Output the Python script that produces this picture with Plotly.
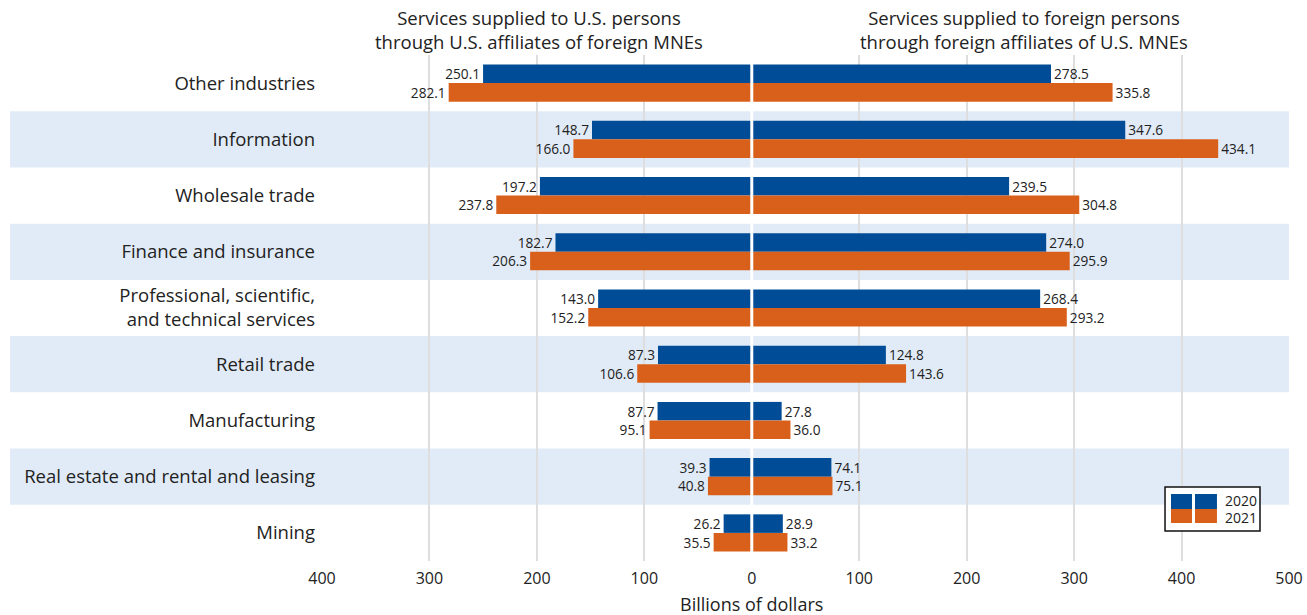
import plotly.graph_objects as go

# Industries, listed top to bottom
industries = [
    "Other industries",
    "Information",
    "Wholesale trade",
    "Finance and insurance",
    "Professional, scientific,<br>and technical services",
    "Retail trade",
    "Manufacturing",
    "Real estate and rental and leasing",
    "Mining",
]

# Services supplied to U.S. persons through U.S. affiliates of foreign MNEs (billions of dollars)
us_affiliates_2020 = [250.1, 148.7, 197.2, 182.7, 143.0, 87.3, 87.7, 39.3, 26.2]
us_affiliates_2021 = [282.1, 166.0, 237.8, 206.3, 152.2, 106.6, 95.1, 40.8, 35.5]

# Services supplied to foreign persons through foreign affiliates of U.S. MNEs (billions of dollars)
foreign_affiliates_2020 = [278.5, 347.6, 239.5, 274.0, 268.4, 124.8, 27.8, 74.1, 28.9]
foreign_affiliates_2021 = [335.8, 434.1, 304.8, 295.9, 293.2, 143.6, 36.0, 75.1, 33.2]

tick_values = [-400, -300, -200, -100, 0, 100, 200, 300, 400, 500]
tick_labels = ["400", "300", "200", "100", "0", "100", "200", "300", "400", "500"]

years = ["2020", "2021"]

BLUE = "#004c97"
ORANGE = "#d9601b"
BAND = "#e1ebf7"
GRID = "#dedede"
TEXT = "#222222"
FONT = "Open Sans"

fig = go.Figure()


def add_side(values, year, color):
    fig.add_trace(go.Bar(
        y=industries,
        x=values,
        orientation="h",
        name=year,
        offsetgroup=year,
        marker=dict(color=color, line=dict(width=0)),
        text=[f"{abs(v):.1f}" for v in values],
        textposition="outside",
        cliponaxis=False,
        textfont=dict(family=FONT, size=14, color=TEXT),
        showlegend=False,
        hoverinfo="skip",
    ))


add_side([-v for v in us_affiliates_2020], years[0], BLUE)
add_side(foreign_affiliates_2020, years[0], BLUE)
add_side([-v for v in us_affiliates_2021], years[1], ORANGE)
add_side(foreign_affiliates_2021, years[1], ORANGE)

shapes = []
# Alternating row bands reaching into the label area
for i in range(1, len(industries), 2):
    shapes.append(dict(
        type="rect", xref="paper", yref="y",
        x0=-0.3226, x1=1.0, y0=i - 0.5, y1=i + 0.5,
        fillcolor=BAND, line=dict(width=0), layer="below",
    ))
# White divider at zero
shapes.append(dict(
    type="line", xref="x", yref="paper", x0=0, x1=0, y0=0, y1=1,
    line=dict(color="white", width=3), layer="above",
))

# Legend box with paired swatches
shapes.append(dict(
    type="rect", xref="paper", yref="paper",
    x0=0.8718, x1=0.9700, y0=0.0593, y1=0.1462,
    fillcolor="white", line=dict(color="#111111", width=1.5), layer="above",
))
for x0, x1 in [(0.8780, 0.8997), (0.9028, 0.9255)]:
    shapes.append(dict(type="rect", xref="paper", yref="paper",
                       x0=x0, x1=x1, y0=0.1028, y1=0.1324,
                       fillcolor=BLUE, line=dict(width=0), layer="above"))
    shapes.append(dict(type="rect", xref="paper", yref="paper",
                       x0=x0, x1=x1, y0=0.0751, y1=0.1028,
                       fillcolor=ORANGE, line=dict(width=0), layer="above"))

annotations = [
    dict(text="Services supplied to U.S. persons<br>through U.S. affiliates of foreign MNEs",
         xref="x", yref="paper", x=-198, y=1.051, showarrow=False,
         xanchor="center", yanchor="middle",
         font=dict(family=FONT, size=18.5, color=TEXT)),
    dict(text="Services supplied to foreign persons<br>through foreign affiliates of U.S. MNEs",
         xref="x", yref="paper", x=253, y=1.051, showarrow=False,
         xanchor="center", yanchor="middle",
         font=dict(family=FONT, size=18.5, color=TEXT)),
    dict(text="Billions of dollars", xref="x", yref="paper", x=0, y=-0.084,
         showarrow=False, xanchor="center", yanchor="middle",
         font=dict(family=FONT, size=18, color=TEXT)),
    dict(text=years[0], xref="paper", yref="paper", x=0.9318, y=0.1186,
         showarrow=False, xanchor="left", yanchor="middle",
         font=dict(family=FONT, size=14, color=TEXT)),
    dict(text=years[1], xref="paper", yref="paper", x=0.9318, y=0.0869,
         showarrow=False, xanchor="left", yanchor="middle",
         font=dict(family=FONT, size=14, color=TEXT)),
]

fig.update_layout(
    width=1307, height=615,
    margin=dict(l=322, r=18, t=55, b=54),
    paper_bgcolor="white",
    plot_bgcolor="rgba(0,0,0,0)",
    barmode="group",
    bargap=0.34,
    bargroupgap=0,
    shapes=shapes,
    annotations=annotations,
    font=dict(family=FONT, color=TEXT),
    xaxis=dict(
        range=[-400, 500],
        tickvals=tick_values,
        ticktext=tick_labels,
        automargin=False,
        showgrid=True, gridcolor=GRID, gridwidth=2,
        zeroline=False, showline=False, ticks="",
        ticklabelstandoff=6,
        tickfont=dict(family=FONT, size=16, color=TEXT),
    ),
    yaxis=dict(
        range=[len(industries) - 0.5, -0.5],
        automargin=False,
        showgrid=False, zeroline=False, showline=False, ticks="",
        ticklabelstandoff=6,
        tickfont=dict(family=FONT, size=18.5, color=TEXT),
    ),
)

fig.write_html("out.html")
